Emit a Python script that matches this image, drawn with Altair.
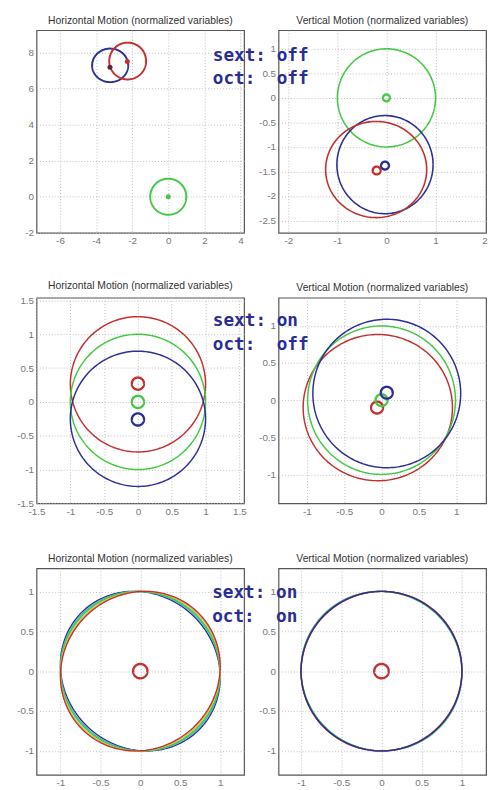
import altair as alt
import numpy as np
import pandas as pd

# ---------------- data ----------------
# Row 1 : sext off, oct off
p1_names = ["blue", "red", "green"]
p1_cx = [-3.22, -2.25, 0.0]
p1_cy = [7.28, 7.52, 0.0]
p1_rx = [1.0, 1.02, 1.0]
p1_ry = [0.93, 1.02, 1.0]
p1_dot_names = ["dark", "red", "green"]
p1_dot_x = [-3.23, -2.27, 0.0]
p1_dot_y = [7.18, 7.5, 0.0]

p2_names = ["green", "blue", "red"]
p2_cx = [0.0, -0.03, -0.21]
p2_cy = [0.0, -1.36, -1.46]
p2_rx = [1.0, 0.98, 1.03]
p2_ry = [1.0, 1.0, 0.98]
p2_small_names = ["green", "blue", "red"]
p2_small_cx = [0.0, -0.03, -0.2]
p2_small_cy = [0.0, -1.38, -1.48]
p2_small_r = [0.07, 0.08, 0.08]

# Row 2 : sext on, oct off
p3_names = ["red", "green", "blue"]
p3_cx = [0.0, 0.0, 0.0]
p3_cy = [0.26, 0.0, -0.25]
p3_rx = [1.0, 1.0, 1.0]
p3_ry = [1.0, 1.0, 1.0]
p3_small_names = ["red", "green", "blue"]
p3_small_cx = [0.0, 0.0, 0.0]
p3_small_cy = [0.27, 0.0, -0.26]
p3_small_r = [0.09, 0.09, 0.09]

p4_names = ["red", "green", "blue"]
p4_cx = [-0.05, 0.0, 0.07]
p4_cy = [-0.1, 0.0, 0.09]
p4_rx = [1.0, 0.99, 0.99]
p4_ry = [0.985, 1.0, 1.0]
p4_small_names = ["red", "green", "blue"]
p4_small_cx = [-0.06, 0.0, 0.07]
p4_small_cy = [-0.1, 0.0, 0.1]
p4_small_r = [0.08, 0.08, 0.08]

# Row 3 : sext on, oct on  (slightly tilted ellipses forming a band)
p5_names = ["blue", "cyan", "green", "yellow", "red"]
p5_a = [1.04, 1.02, 1.005, 0.985, 0.97]
p5_b = [0.96, 0.98, 0.995, 1.015, 1.03]
p5_tilt = [-45, -45, -45, -45, -45]
p6_names = ["green", "cyan", "red", "blue"]
p6_a = [1.01, 1.005, 0.995, 1.0]
p6_b = [0.99, 0.995, 1.005, 1.0]
p6_tilt = [-45, -45, -45, -45]
center_small_r = [0.09]

h_title = "Horizontal Motion (normalized variables)"
v_title = "Vertical Motion (normalized variables)"

row_text = [["sext:\u00a0off", "oct:\u00a0\u00a0off"],
            ["sext:\u00a0on", "oct:\u00a0\u00a0off"],
            ["sext:\u00a0on", "oct:\u00a0\u00a0on"]]
# annotation anchor, in the data units of each row's right-hand panel
row_text_x = [-3.54, -2.26, -2.105]
row_text_y = [[0.76, 0.28], [1.0, 0.67], [0.92, 0.61]]

color_domain = ["red", "green", "blue", "cyan", "yellow", "dark"]
color_range = ["#c3302f", "#45c845", "#2d2f94", "#3fb9b9", "#d9c23c", "#6a2040"]


def rings(names, cx, cy, rx, ry, tilt=None, n=200):
    rows = []
    t = np.linspace(0, 2 * np.pi, n)
    for k, name in enumerate(names):
        th = np.deg2rad(tilt[k]) if tilt is not None else 0.0
        ex = rx[k] * np.cos(t)
        ey = ry[k] * np.sin(t)
        xs = cx[k] + ex * np.cos(th) - ey * np.sin(th)
        ys = cy[k] + ex * np.sin(th) + ey * np.cos(th)
        for i in range(n):
            rows.append({"id": f"{name}{k}", "name": name, "i": i,
                         "x": float(xs[i]), "y": float(ys[i])})
    return pd.DataFrame(rows)


col_scale = alt.Scale(domain=color_domain, range=color_range)


def panel(title, xdom, ydom, xticks, yticks, w, h, layers_spec):
    xs = alt.Scale(domain=xdom, nice=False, zero=False)
    ys = alt.Scale(domain=ydom, nice=False, zero=False)
    xa = alt.Axis(values=xticks, labelExpr="'' + datum.value", title=None)
    ya = alt.Axis(values=yticks, labelExpr="'' + datum.value", title=None)
    layers = []
    for kind, df, sw in layers_spec:
        if kind == "line":
            m = alt.Chart(df).mark_line(strokeWidth=sw, clip=True).encode(
                x=alt.X("x:Q", scale=xs, axis=xa),
                y=alt.Y("y:Q", scale=ys, axis=ya),
                detail="id:N",
                order="i:Q",
                color=alt.Color("name:N", scale=col_scale, legend=None),
            )
        elif kind == "dot":
            m = alt.Chart(df).mark_circle(size=sw, opacity=1).encode(
                x=alt.X("x:Q", scale=xs, axis=xa),
                y=alt.Y("y:Q", scale=ys, axis=ya),
                color=alt.Color("name:N", scale=col_scale, legend=None),
            )
        else:  # text
            m = alt.Chart(df).mark_text(
                align="left", baseline="alphabetic", font="DejaVu Sans Mono",
                fontWeight="bold", fontSize=18, color="#2b2d96").encode(
                x=alt.X("x:Q", scale=xs, axis=xa),
                y=alt.Y("y:Q", scale=ys, axis=ya),
                text="t:N",
            )
        layers.append(m)
    return alt.layer(*layers).properties(
        width=w, height=h,
        title=alt.TitleParams(title, fontSize=10.5, font="Liberation Sans",
                              fontWeight="normal", color="#333", offset=4))


def text_df(r):
    return pd.DataFrame({"x": [row_text_x[r]] * 2, "y": row_text_y[r], "t": row_text[r]})


def dots_df(names, xs, ys):
    return pd.DataFrame({"name": names, "x": xs, "y": ys})


W = 211
p1 = panel(h_title, [-7.3, 4.2], [-2, 9.23], [-6, -4, -2, 0, 2, 4], [-2, 0, 2, 4, 6, 8], W, 206, [
    ("line", rings(p1_names, p1_cx, p1_cy, p1_rx, p1_ry), 2),
    ("dot", dots_df(p1_dot_names, p1_dot_x, p1_dot_y), 26),
])
p2 = panel(v_title, [-2.2, 2.03], [-2.75, 1.38], [-2, -1, 0, 1, 2],
           [-2.5, -2, -1.5, -1, -0.5, 0, 0.5, 1], W, 206, [
    ("line", rings(p2_names, p2_cx, p2_cy, p2_rx, p2_ry), 1.6),
    ("line", rings(p2_small_names, p2_small_cx, p2_small_cy, p2_small_r, p2_small_r), 2.4),
    ("text", text_df(0), 0),
])
p3 = panel(h_title, [-1.5, 1.57], [-1.5, 1.54], [-1.5, -1, -0.5, 0, 0.5, 1, 1.5],
           [-1.5, -1, -0.5, 0, 0.5, 1, 1.5], W, 209, [
    ("line", rings(p3_names, p3_cx, p3_cy, p3_rx, p3_ry), 1.5),
    ("line", rings(p3_small_names, p3_small_cx, p3_small_cy, p3_small_r, p3_small_r), 2.4),
])
p4 = panel(v_title, [-1.38, 1.4], [-1.39, 1.38], [-1, -0.5, 0, 0.5, 1],
           [-1, -0.5, 0, 0.5, 1], W, 209, [
    ("line", rings(p4_names, p4_cx, p4_cy, p4_rx, p4_ry), 1.5),
    ("line", rings(p4_small_names, p4_small_cx, p4_small_cy, p4_small_r, p4_small_r), 2.4),
    ("text", text_df(1), 0),
])
p5 = panel(h_title, [-1.3, 1.3], [-1.3, 1.29], [-1, -0.5, 0, 0.5, 1],
           [-1, -0.5, 0, 0.5, 1], W, 210, [
    ("line", rings(p5_names, [0] * 5, [0] * 5, p5_a, p5_b, p5_tilt), 1.4),
    ("line", rings(["red"], [0], [0], center_small_r, center_small_r), 2.4),
])
p6 = panel(v_title, [-1.28, 1.3], [-1.3, 1.29], [-1, -0.5, 0, 0.5, 1],
           [-1, -0.5, 0, 0.5, 1], W, 210, [
    ("line", rings(p6_names, [0] * 4, [0] * 4, p6_a, p6_b, p6_tilt), 1.4),
    ("line", rings(["red"], [0], [0], center_small_r, center_small_r), 2.4),
    ("text", text_df(2), 0),
])

chart = alt.concat(p1, p2, p3, p4, p5, p6, columns=2, bounds="flush",
                   spacing={"row": 66, "column": 35}).properties(
    padding={"left": 8, "top": 0, "right": 2, "bottom": 2}
).configure_view(stroke="#555", strokeWidth=1.2).configure_axis(
    grid=True, gridColor="#bdbdbd", gridDash=[1, 2], gridWidth=1,
    domain=False, ticks=False, labelColor="#777", labelFont="Liberation Sans",
    labelFontSize=10, labelPadding=3, labelFlush=False, labelOverlap=False,
)

chart.save("out.html", embed_options={"renderer": "svg", "actions": False})
